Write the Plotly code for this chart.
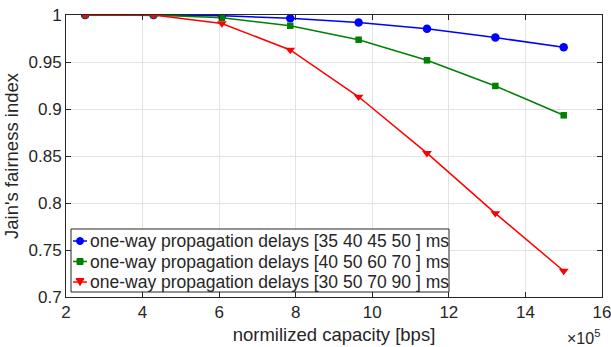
import plotly.graph_objects as go

capacity_bps = [250000, 428571, 607143, 785714, 964286, 1142857, 1321429, 1500000]
fair_35_50 = [1.0, 1.0, 0.9993, 0.9965, 0.992, 0.9854, 0.976, 0.9656]
fair_40_70 = [1.0, 1.0, 0.997, 0.9886, 0.9737, 0.9518, 0.9245, 0.8933]
fair_30_90 = [1.0, 1.0, 0.991, 0.9628, 0.913, 0.853, 0.789, 0.7277]
series_names = [
    "one-way propagation delays [35 40 45 50 ] ms",
    "one-way propagation delays [40 50 60 70 ] ms",
    "one-way propagation delays [30 50 70 90 ] ms",
]
x_ticks = [2, 4, 6, 8, 10, 12, 14, 16]
y_ticks = [0.7, 0.75, 0.8, 0.85, 0.9, 0.95, 1.0]
y_ticklabels = ["0.7", "0.75", "0.8", "0.85", "0.9", "0.95", "1"]

FONT = "Liberation Sans, Arial"
TXT = "#262626"
x = [c / 1e5 for c in capacity_bps]
styles = [("#0000ff", "circle", 8.5), ("#008000", "square", 6.5), ("#ff0000", "triangle-down", 8.5)]
fig = go.Figure()
for ys, name, (col, sym, sz) in zip([fair_35_50, fair_40_70, fair_30_90], series_names, styles):
    fig.add_trace(go.Scatter(x=x, y=ys, name=name, mode="lines+markers",
                             line=dict(color=col, width=1.5),
                             marker=dict(symbol=sym, size=sz, color=col),
                             showlegend=False))

axis_common = dict(showline=True, linecolor=TXT, linewidth=1, mirror="ticks",
                   ticks="inside", ticklen=5, tickcolor=TXT, automargin=False,
                   ticklabeloverflow="allow",
                   showgrid=True, gridcolor="#e3e3e3", gridwidth=1, zeroline=False,
                   tickfont=dict(family=FONT, size=17, color=TXT))
fig.update_xaxes(range=[2, 16], tickvals=x_ticks,
                 title=dict(text="normilized capacity [bps]", standoff=6,
                            font=dict(family=FONT, size=18.5, color=TXT)),
                 **axis_common)
fig.update_yaxes(range=[0.7, 1.0], tickvals=y_ticks, ticktext=y_ticklabels,
                 title=dict(text="Jain's fairness index", standoff=5,
                            font=dict(family=FONT, size=18.5, color=TXT)),
                 **axis_common)
fig.add_annotation(text="×10<sup>5</sup>", xref="paper", yref="paper", x=1.0, y=-0.1,
                   xanchor="right", yanchor="top", showarrow=False,
                   font=dict(family=FONT, size=16, color=TXT))

# ---- custom compact legend (MATLAB style box) ----
plot_w, plot_h = 536, 282  # plot area size in px (611-66-9, 347-15-50)
def px_x(p):
    return p / plot_w
def px_y(p):
    return 1 - p / plot_h
box_left, box_right, box_top, box_bottom = 5, 383, 214, 277  # px offsets from plot top-left
fig.add_shape(type="rect", xref="paper", yref="paper",
              x0=px_x(box_left), x1=px_x(box_right), y0=px_y(box_bottom), y1=px_y(box_top),
              line=dict(color=TXT, width=1), fillcolor="white", layer="above")
row_centers = [226, 246.5, 267]
for (col, sym, sz), name, rc in zip(styles, series_names, row_centers):
    yc = px_y(rc)
    fig.add_shape(type="line", xref="paper", yref="paper",
                  x0=px_x(7), x1=px_x(21), y0=yc, y1=yc,
                  line=dict(color=col, width=1.5), layer="above")
    xc = px_x(14)
    common = dict(xref="paper", yref="paper", xsizemode="pixel", ysizemode="pixel",
                  xanchor=xc, yanchor=yc, fillcolor=col, line=dict(color=col, width=1),
                  layer="above")
    if sym == "circle":
        fig.add_shape(type="circle", x0=-3.5, x1=3.5, y0=-3.5, y1=3.5, **common)
    elif sym == "square":
        fig.add_shape(type="rect", x0=-3, x1=3, y0=-3, y1=3, **common)
    else:
        fig.add_shape(type="path", path="M -4,3.5 L 4,3.5 L 0,-3.5 Z", **common)
    fig.add_annotation(text=name, xref="paper", yref="paper", x=px_x(22), y=yc,
                       xanchor="left", yanchor="middle", showarrow=False,
                       font=dict(family=FONT, size=17.5, color=TXT))

fig.update_layout(
    width=611, height=347, margin=dict(l=66, r=9, t=15, b=50),
    plot_bgcolor="white", paper_bgcolor="white",
    showlegend=False,
)
fig.write_html("out.html")
